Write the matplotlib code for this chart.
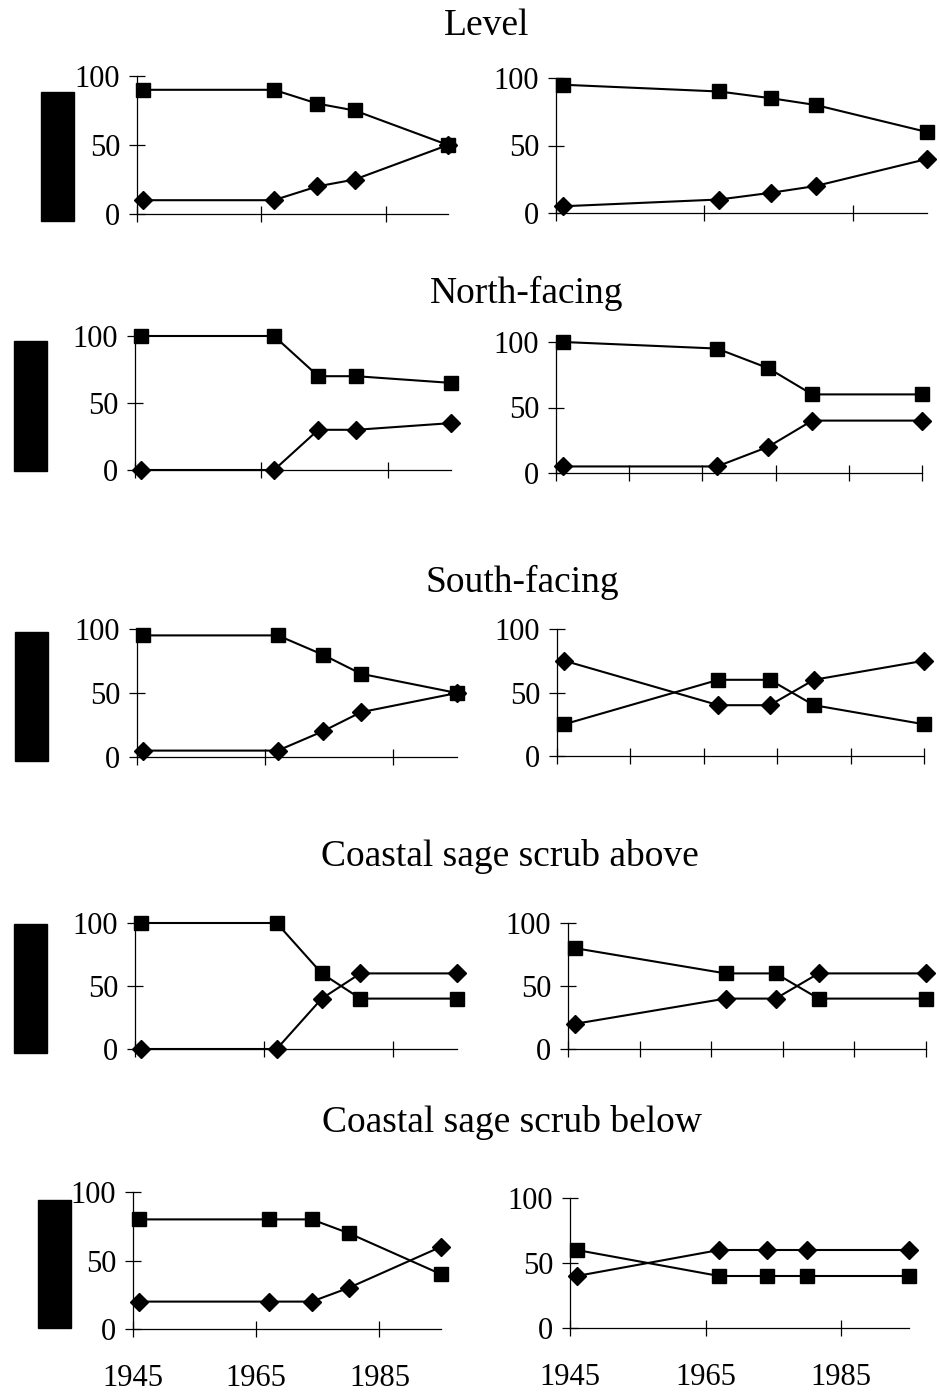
import matplotlib
matplotlib.use('Agg')
import matplotlib.pyplot as plt
from matplotlib.patches import Rectangle

plt.rcParams['font.family'] = 'Liberation Serif'

## data
years = [1946, 1967, 1974, 1980, 1995]
titles = ['Level', 'North-facing', 'South-facing',
          'Coastal sage scrub above', 'Coastal sage scrub below']
square_left = [[90, 90, 80, 75, 50], [100, 100, 70, 70, 65], [95, 95, 80, 65, 50],
               [100, 100, 60, 40, 40], [80, 80, 80, 70, 40]]
diamond_left = [[10, 10, 20, 25, 50], [0, 0, 30, 30, 35], [5, 5, 20, 35, 50],
                [0, 0, 40, 60, 60], [20, 20, 20, 30, 60]]
square_right = [[95, 90, 85, 80, 60], [100, 95, 80, 60, 60], [25, 60, 60, 40, 25],
                [80, 60, 60, 40, 40], [60, 40, 40, 40, 40]]
diamond_right = [[5, 10, 15, 20, 40], [5, 5, 20, 40, 40], [75, 40, 40, 60, 75],
                 [20, 40, 40, 60, 60], [40, 60, 60, 60, 60]]
step_left = [20, 20, 20, 20, 20]
step_right = [20, 10, 10, 10, 20]
yticks = [0, 50, 100]

## layout in pixels (x0, x1, ytop, ybottom)
W, H = 940, 1392
boxes_left = [(137, 448, 76, 214), (135, 451, 336, 470), (137, 457, 629, 757),
              (135, 457, 923, 1049), (133, 441, 1192, 1329)]
boxes_right = [(556, 927, 78, 213), (556, 922, 342, 473), (557, 924, 629, 756),
               (568, 926, 923, 1049), (570, 909, 1198, 1328)]
bars = [(41, 74, 92, 221), (14, 47, 341, 471), (15, 48, 632, 761),
        (14, 47, 924, 1053), (38, 71, 1200, 1328)]
title_pos = [(487, 26), (527, 293), (522, 582), (510, 856), (512, 1123)]

fig = plt.figure(figsize=(W / 100, H / 100), dpi=100)


def px_axes(box):
    x0, x1, yt, yb = box
    return fig.add_axes([x0 / W, 1 - yb / H, (x1 - x0) / W, (yb - yt) / H])


def draw(ax, sq, dm, step, last):
    ax.plot(years, dm, color='black', lw=1.5, marker='D', ms=9, clip_on=False, zorder=3)
    ax.plot(years, sq, color='black', lw=1.5, marker='s', ms=10, clip_on=False, zorder=4)
    ax.set_xlim(1945, 1995)
    ax.set_ylim(0, 100)
    ax.set_xticks(list(range(1945, 1996, step)))
    ax.set_yticks(yticks)
    for s in ['top', 'right']:
        ax.spines[s].set_visible(False)
    for s in ['left', 'bottom']:
        ax.spines[s].set_linewidth(0.9)
    ax.tick_params(direction='inout', length=12, width=0.9, labelsize=22)
    ax.tick_params(axis='y', pad=6)
    if last:
        ax.tick_params(axis='x', pad=19)
    else:
        ax.set_xticklabels([])
    ax.patch.set_alpha(0)


for i in range(5):
    draw(px_axes(boxes_left[i]), square_left[i], diamond_left[i], step_left[i], i == 4)
    draw(px_axes(boxes_right[i]), square_right[i], diamond_right[i], step_right[i], i == 4)
    x0, x1, yt, yb = bars[i]
    fig.add_artist(Rectangle((x0 / W, 1 - yb / H), (x1 - x0) / W, (yb - yt) / H,
                             transform=fig.transFigure, color='black'))
    tx, ty = title_pos[i]
    fig.text(tx / W, 1 - ty / H, titles[i], ha='center', va='center', fontsize=27)

fig.savefig('out.png', dpi=100)
